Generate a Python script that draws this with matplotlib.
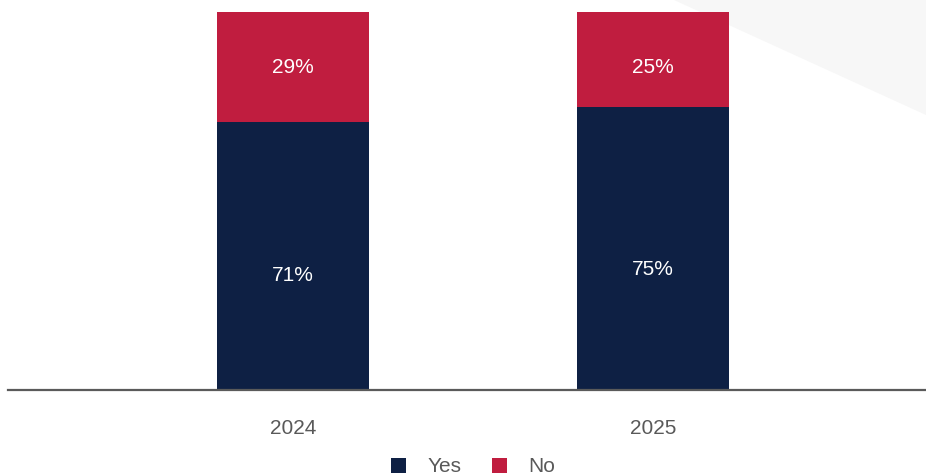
import matplotlib.pyplot as plt
from matplotlib.patches import Polygon, Patch

years = ["2024", "2025"]
yes_pct = [71, 75]
no_pct = [29, 25]

navy = "#0e2044"
red = "#c01d3f"
grey_txt = "#595959"

plt.rcParams['font.family'] = ['Liberation Sans', 'DejaVu Sans']

W, H = 926, 476
fig = plt.figure(figsize=(W / 100, H / 100), dpi=100)

# light background wedge top-right
fig.patches.append(Polygon([(674 / W, 1), (1, 1), (1, 1 - 115 / H)],
                           closed=True, transform=fig.transFigure,
                           facecolor="#f7f7f7", edgecolor="none", zorder=0))

ax = fig.add_axes([8 / W, (H - 390) / H, 918 / W, 378 / H])
ax.set_zorder(2)
ax.patch.set_alpha(0)

x = list(range(len(years)))
ax.bar(x, yes_pct, width=152 / 360, color=navy, zorder=2)
ax.bar(x, no_pct, width=152 / 360, bottom=yes_pct, color=red, zorder=2)

for i in x:
    ax.text(i, yes_pct[i] * 0.425, f"{yes_pct[i]}%", color="white",
            ha="center", va="center", fontsize=15)
    ax.text(i, 100 - 14.8, f"{no_pct[i]}%", color="white",
            ha="center", va="center", fontsize=15)

ax.set_xlim(-285 / 360, 1 + 273 / 360)
ax.set_ylim(0, 100)
ax.set_yticks([])
ax.set_xticks(x)
ax.set_xticklabels(years, fontsize=15, color=grey_txt)
ax.tick_params(axis="x", length=0, pad=21)
for s in ["top", "right", "left"]:
    ax.spines[s].set_visible(False)
ax.spines["bottom"].set_color("#5a5a5a")
ax.spines["bottom"].set_linewidth(1.6)

handles = [Patch(facecolor=navy), Patch(facecolor=red)]
fig.legend(handles, ["Yes", "No"], loc="center", bbox_to_anchor=(473 / W, 1 - 467 / H),
           ncol=2, frameon=False, fontsize=15, labelcolor=grey_txt,
           handlelength=0.72, handleheight=0.72, handletextpad=1.05, columnspacing=1.45)

fig.savefig("out.png", dpi=100)
